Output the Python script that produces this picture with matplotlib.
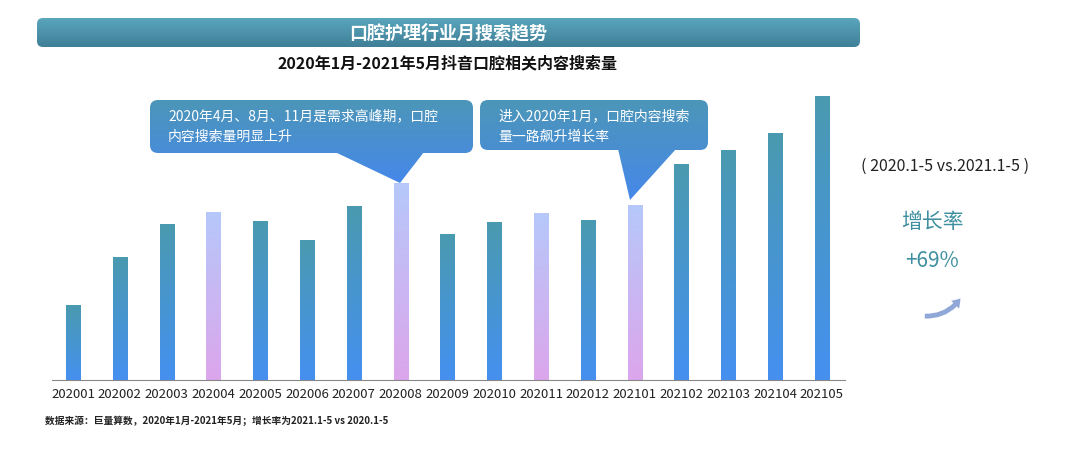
import numpy as np
import matplotlib
matplotlib.use("Agg")
import matplotlib.pyplot as plt
from matplotlib.patches import FancyBboxPatch, Polygon, Rectangle
from matplotlib.colors import LinearSegmentedColormap

plt.rcParams['font.family'] = ['Noto Sans CJK SC', 'DejaVu Sans']

months = ["202001","202002","202003","202004","202005","202006","202007","202008","202009",
          "202010","202011","202012","202101","202102","202103","202104","202105"]
values = [75,123,156,168,159,140,174,197,146,158,167,160,175,216,230,247,284]
highlight = ["202004","202008","202011","202101"]

W, H = 1080, 455
fig = plt.figure(figsize=(W/100, H/100), dpi=100)

ax = fig.add_axes([52/W, 75/H, 793/W, 300/H])
ax.patch.set_visible(False)
for s in ['top','right','left']: ax.spines[s].set_visible(False)
ax.spines['bottom'].set_color('#888888')
ax.set_yticks([])
ax.set_xticks(range(len(months))); ax.set_xticklabels(months, fontsize=9.5, color='#222222')
ax.tick_params(axis='x', length=0, pad=6)

cm_n = LinearSegmentedColormap.from_list('n', ['#4590f0', '#4a9ab0'])
cm_h = LinearSegmentedColormap.from_list('h', ['#dca6ec', '#b6c8fa'])
grad = np.linspace(0,1,256).reshape(-1,1)
bw = 0.3
for i,(m,v) in enumerate(zip(months, values)):
    r = Rectangle((i-bw/2,0), bw, v, facecolor='none', edgecolor='none')
    ax.add_patch(r)
    im = ax.imshow(grad, cmap=cm_h if m in highlight else cm_n, origin='lower', aspect='auto',
                   extent=(i-bw/2, i+bw/2, 0, v), zorder=2)
    im.set_clip_path(r)
ax.set_xlim(-21/46.8, (845-73)/46.8); ax.set_ylim(0,300)

ov = fig.add_axes([0,0,1,1], zorder=5); ov.set_xlim(0,W); ov.set_ylim(H,0); ov.axis('off')
ov.patch.set_visible(False)

def grad_patch(patch, c1, c2, ext):
    ov.add_patch(patch)
    cm = LinearSegmentedColormap.from_list('g', [c1, c2])
    g = np.linspace(0,1,256).reshape(-1,1)
    im = ov.imshow(g, cmap=cm, extent=ext, aspect='auto', zorder=3, origin='upper')
    im.set_clip_path(patch)

# banner
b = FancyBboxPatch((37,18), 823, 29, boxstyle="round,pad=0,rounding_size=6", fc='none', ec='none')
grad_patch(b, '#5aa6bc', '#3f7f98', (37,860,47,18))
ov.text(448, 33, "口腔护理行业月搜索趋势", color='white', fontsize=13, fontweight='bold', ha='center', va='center')
ov.text(448, 63, "2020年1月-2021年5月抖音口腔相关内容搜索量", color='#111111', fontsize=11.5, fontweight='bold', ha='center', va='center')

def callout(x0,y0,x1,y1,tri,lines):
    ybot = max(y1, tri[2][1])
    p = FancyBboxPatch((x0,y0), x1-x0, y1-y0, boxstyle="round,pad=0,rounding_size=8", fc='none', ec='none')
    grad_patch(p, '#4c96b8', '#4688ea', (x0,x1,ybot,y0))
    t = Polygon(tri, closed=True, fc='none', ec='none')
    grad_patch(t, '#4c96b8', '#4688ea', (x0,x1,ybot,y0))
    for k,l in enumerate(lines):
        ov.text(x0+18, y0+16+k*21, l, color='white', fontsize=10, va='center', zorder=6)

callout(150,100,473,153, [(335,152),(424,152),(400,183)],
        ["2020年4月、8月、11月是需求高峰期，口腔", "内容搜索量明显上升"])
callout(480,100,708,150, [(618,149),(676,149),(630,200)],
        ["进入2020年1月，口腔内容搜索", "量一路飙升增长率"])

ov.text(945, 166, "( 2020.1-5 vs.2021.1-5 )", color='#222222', fontsize=11.5, ha='center', va='center')
ov.text(932, 222, "增长率", color='#3f8fa0', fontsize=15, ha='center', va='center')
ov.text(932, 261, "+69%", color='#3f8fa0', fontsize=15, ha='center', va='center')
ov.annotate("", xy=(962,296), xytext=(922,316),
            arrowprops=dict(arrowstyle='simple,head_width=0.8,head_length=0.6,tail_width=0.35',
                            connectionstyle='arc3,rad=0.3', color='#8fa8d8', lw=0))
ov.text(45, 421, "数据来源：巨量算数，2020年1月-2021年5月；增长率为2021.1-5 vs 2020.1-5",
        color='#222222', fontsize=7, fontweight='bold', va='center')

fig.savefig("out.png", dpi=100)
